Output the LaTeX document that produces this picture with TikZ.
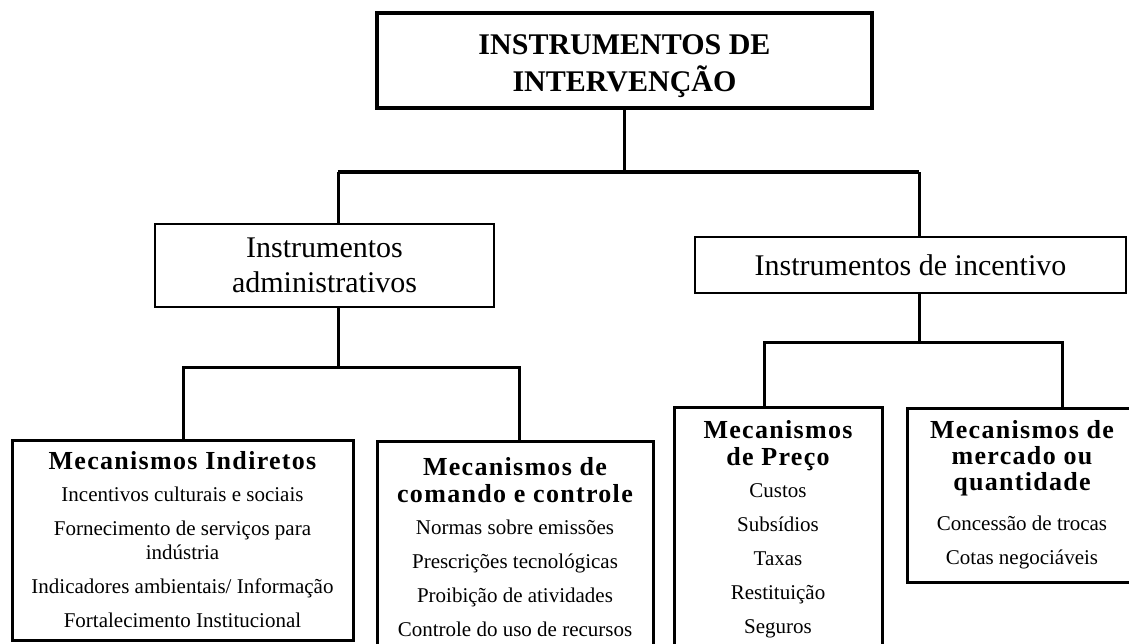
\documentclass[tikz,border=0pt]{standalone}
\usepackage{fontspec}
\setmainfont{Liberation Serif}
\usetikzlibrary{positioning}

\newcommand{\hdfont}{\fontsize{26}{28}\selectfont\bfseries\addfontfeature{LetterSpace=5}}

\begin{document}
\begin{tikzpicture}[x=1pt,y=-1pt,
    topbox/.style={draw, rectangle, line width=4.5pt, align=center, font=\fontsize{30}{37}\selectfont\bfseries},
    midbox/.style={draw, rectangle, line width=2.5pt, align=center, font=\fontsize{30}{35}\selectfont},
    mechbox/.style={draw, rectangle, line width=3pt, align=center, inner sep=0pt, font=\fontsize{21}{24}\selectfont},
    conn/.style={line width=3pt},
    bar/.style={line width=4.5pt}]

    \useasboundingbox (0,0) rectangle (1129,643);
    \clip (0,0) rectangle (1129,643);

    % Nodes
    \node [topbox, minimum width=495pt, minimum height=95pt] (interv) at (624.5,60.5) {\rule{0pt}{32pt}INSTRUMENTOS DE\\INTERVENÇÃO};
    \node [midbox, minimum width=339pt, minimum height=83pt] (admin) at (324.5,265.5) {Instrumentos\\administrativos};
    \node [midbox, minimum width=431pt, minimum height=56pt] (incent) at (910.5,265) {Instrumentos de incentivo};

    \node [mechbox, minimum width=341pt, minimum height=200pt] (indir) at (182.5,540) {{\hdfont Mecanismos Indiretos}\\[8pt]
        Incentivos culturais e sociais\\[10pt] Fornecimento de serviços para\\ indústria\\[10pt]
        Indicadores ambientais/ Informação\\[10pt] Fortalecimento Institucional};
    \node [mechbox, minimum width=276pt, minimum height=212pt] (comando) at (515,547) {{\hdfont Mecanismos de}\\[3pt]
        {\hdfont comando e controle}\\[8pt] Normas sobre emissões\\[10pt] Prescrições tecnológicas\\[10pt]
        Proibição de atividades\\[10pt] Controle do uso de recursos};
    \node [mechbox, minimum width=208pt, minimum height=244pt] (preco) at (778,529) {{\hdfont Mecanismos}\\[3pt]
        {\hdfont de Preço}\\[8pt] Custos\\[10pt] Subsídios\\[10pt] Taxas\\[10pt] Restituição\\[10pt] Seguros};
    \node [mechbox, minimum width=230pt, minimum height=174pt] (mercado) at (1022,495) {{\hdfont Mecanismos de}\\[2pt]
        {\hdfont mercado ou}\\[2pt] {\hdfont quantidade}\\[16pt] Concessão de trocas\\[10pt] Cotas negociáveis};

    % Branch points
    \coordinate (barL) at (338,172);
    \coordinate (barR) at (919,172);
    \coordinate (adminL) at (183,367);
    \coordinate (adminR) at (519,367);
    \coordinate (incentL) at (764,342);
    \coordinate (incentR) at (1062,342);

    % Connections
    \draw [conn] (interv.south) -- (interv.south |- barL);
    \draw [bar] (barL) -- (barR);
    \draw [conn] (barL) -- (barL |- admin.north);
    \draw [conn] (barR) -- (barR |- incent.north);

    \draw [conn] (barL |- admin.south) -- (barL |- adminL);
    \draw [conn] (adminL |- indir.north) -- (adminL) -- (adminR) -- (adminR |- comando.north);

    \draw [conn] (barR |- incent.south) -- (barR |- incentL);
    \draw [conn] (incentL |- preco.north) -- (incentL) -- (incentR) -- (incentR |- mercado.north);

\end{tikzpicture}
\end{document}
